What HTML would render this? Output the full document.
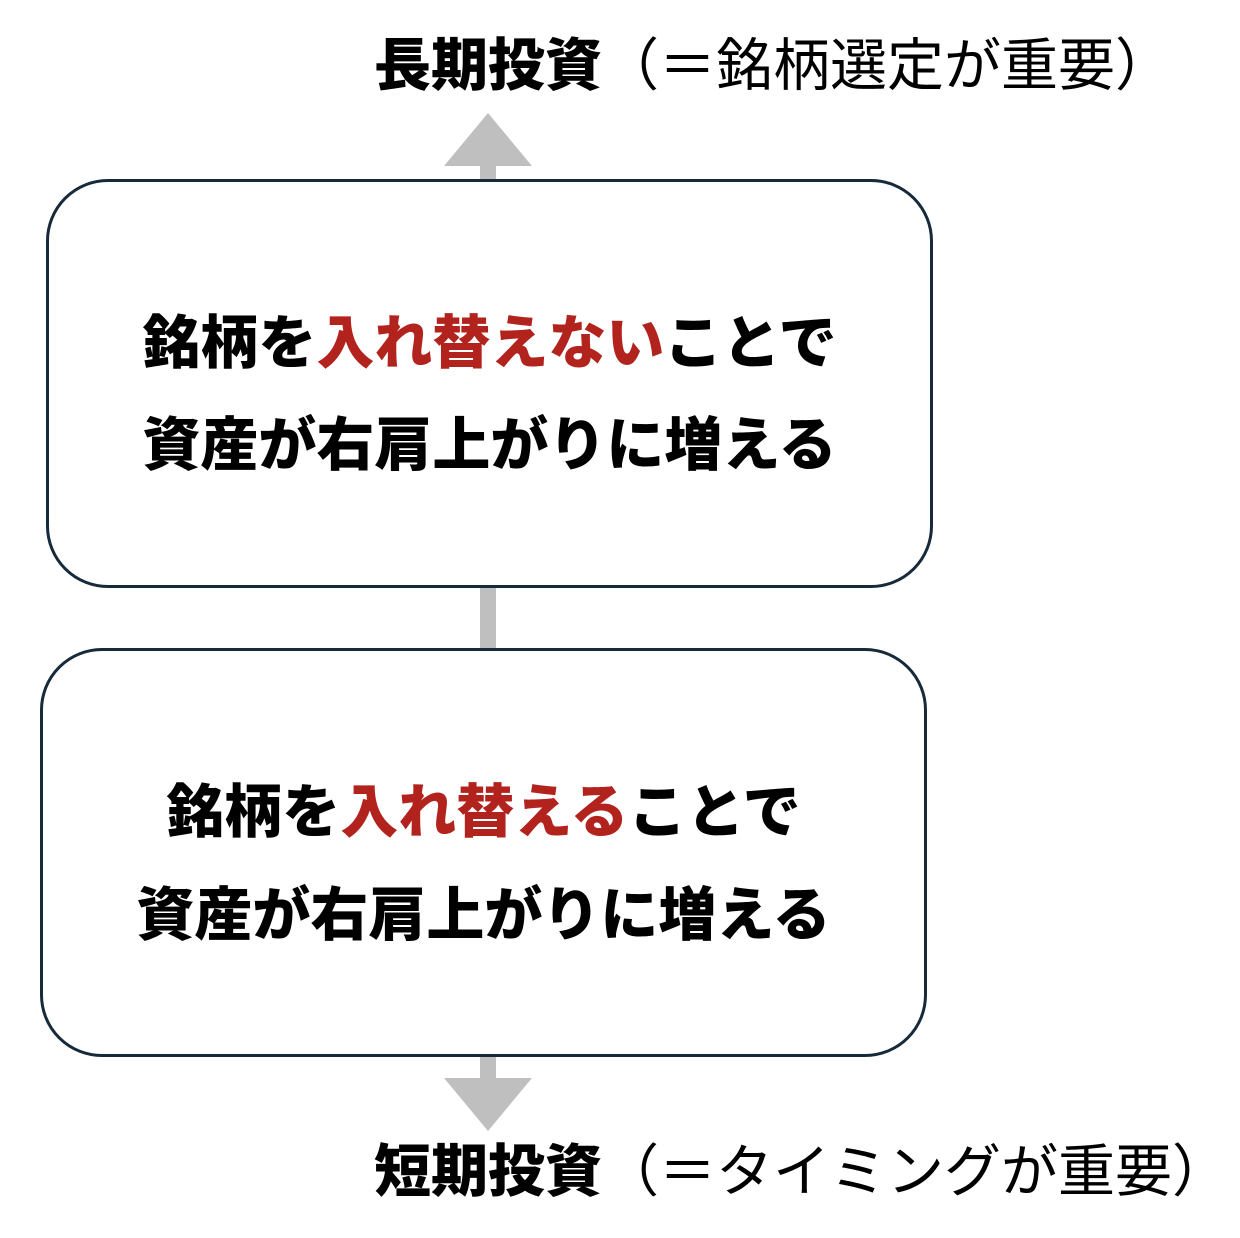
<!DOCTYPE html>
<html><head><meta charset="utf-8"><style>
html,body{margin:0;padding:0;background:#fff;}
body{width:1240px;height:1238px;position:relative;overflow:hidden;font-family:"Liberation Sans","Noto Sans CJK JP",sans-serif;}
.t{position:absolute;white-space:nowrap;line-height:1;color:#000;}
.b{font-weight:900;}
.r{color:#b3231e;}
.box{position:absolute;border:3px solid #172a3a;border-radius:62px;background:#fff;box-sizing:border-box;}
.line{position:absolute;text-align:center;width:100%;left:0;font-size:58px;font-weight:900;line-height:1;white-space:nowrap;}
</style></head><body>
<div class="t" style="left:374px;top:38px;font-size:57px;"><span class="b">長期投資</span>（＝銘柄選定が重要）</div>
<svg style="position:absolute;left:0;top:0" width="1240" height="1238">
<rect x="480" y="160" width="16" height="25" fill="#bfbfbf"/>
<polygon points="444,166 532,166 488,113" fill="#bfbfbf"/>
<rect x="480" y="585" width="16" height="66" fill="#bfbfbf"/>
<rect x="480" y="1054" width="16" height="28" fill="#bfbfbf"/>
<polygon points="444,1078 532,1078 488,1131" fill="#bfbfbf"/>
</svg>
<div class="box" style="left:46px;top:179px;width:887px;height:409px;">
<div class="line" style="top:133px;">銘柄を<span class="r">入れ替えない</span>ことで</div>
<div class="line" style="top:235px;">資産が右肩上がりに増える</div>
</div>
<div class="box" style="left:40px;top:648px;width:887px;height:409px;">
<div class="line" style="top:133px;">銘柄を<span class="r">入れ替える</span>ことで</div>
<div class="line" style="top:236px;">資産が右肩上がりに増える</div>
</div>
<div class="t" style="left:374px;top:1144px;font-size:57px;"><span class="b">短期投資</span>（＝タイミングが重要）</div>
</body></html>
